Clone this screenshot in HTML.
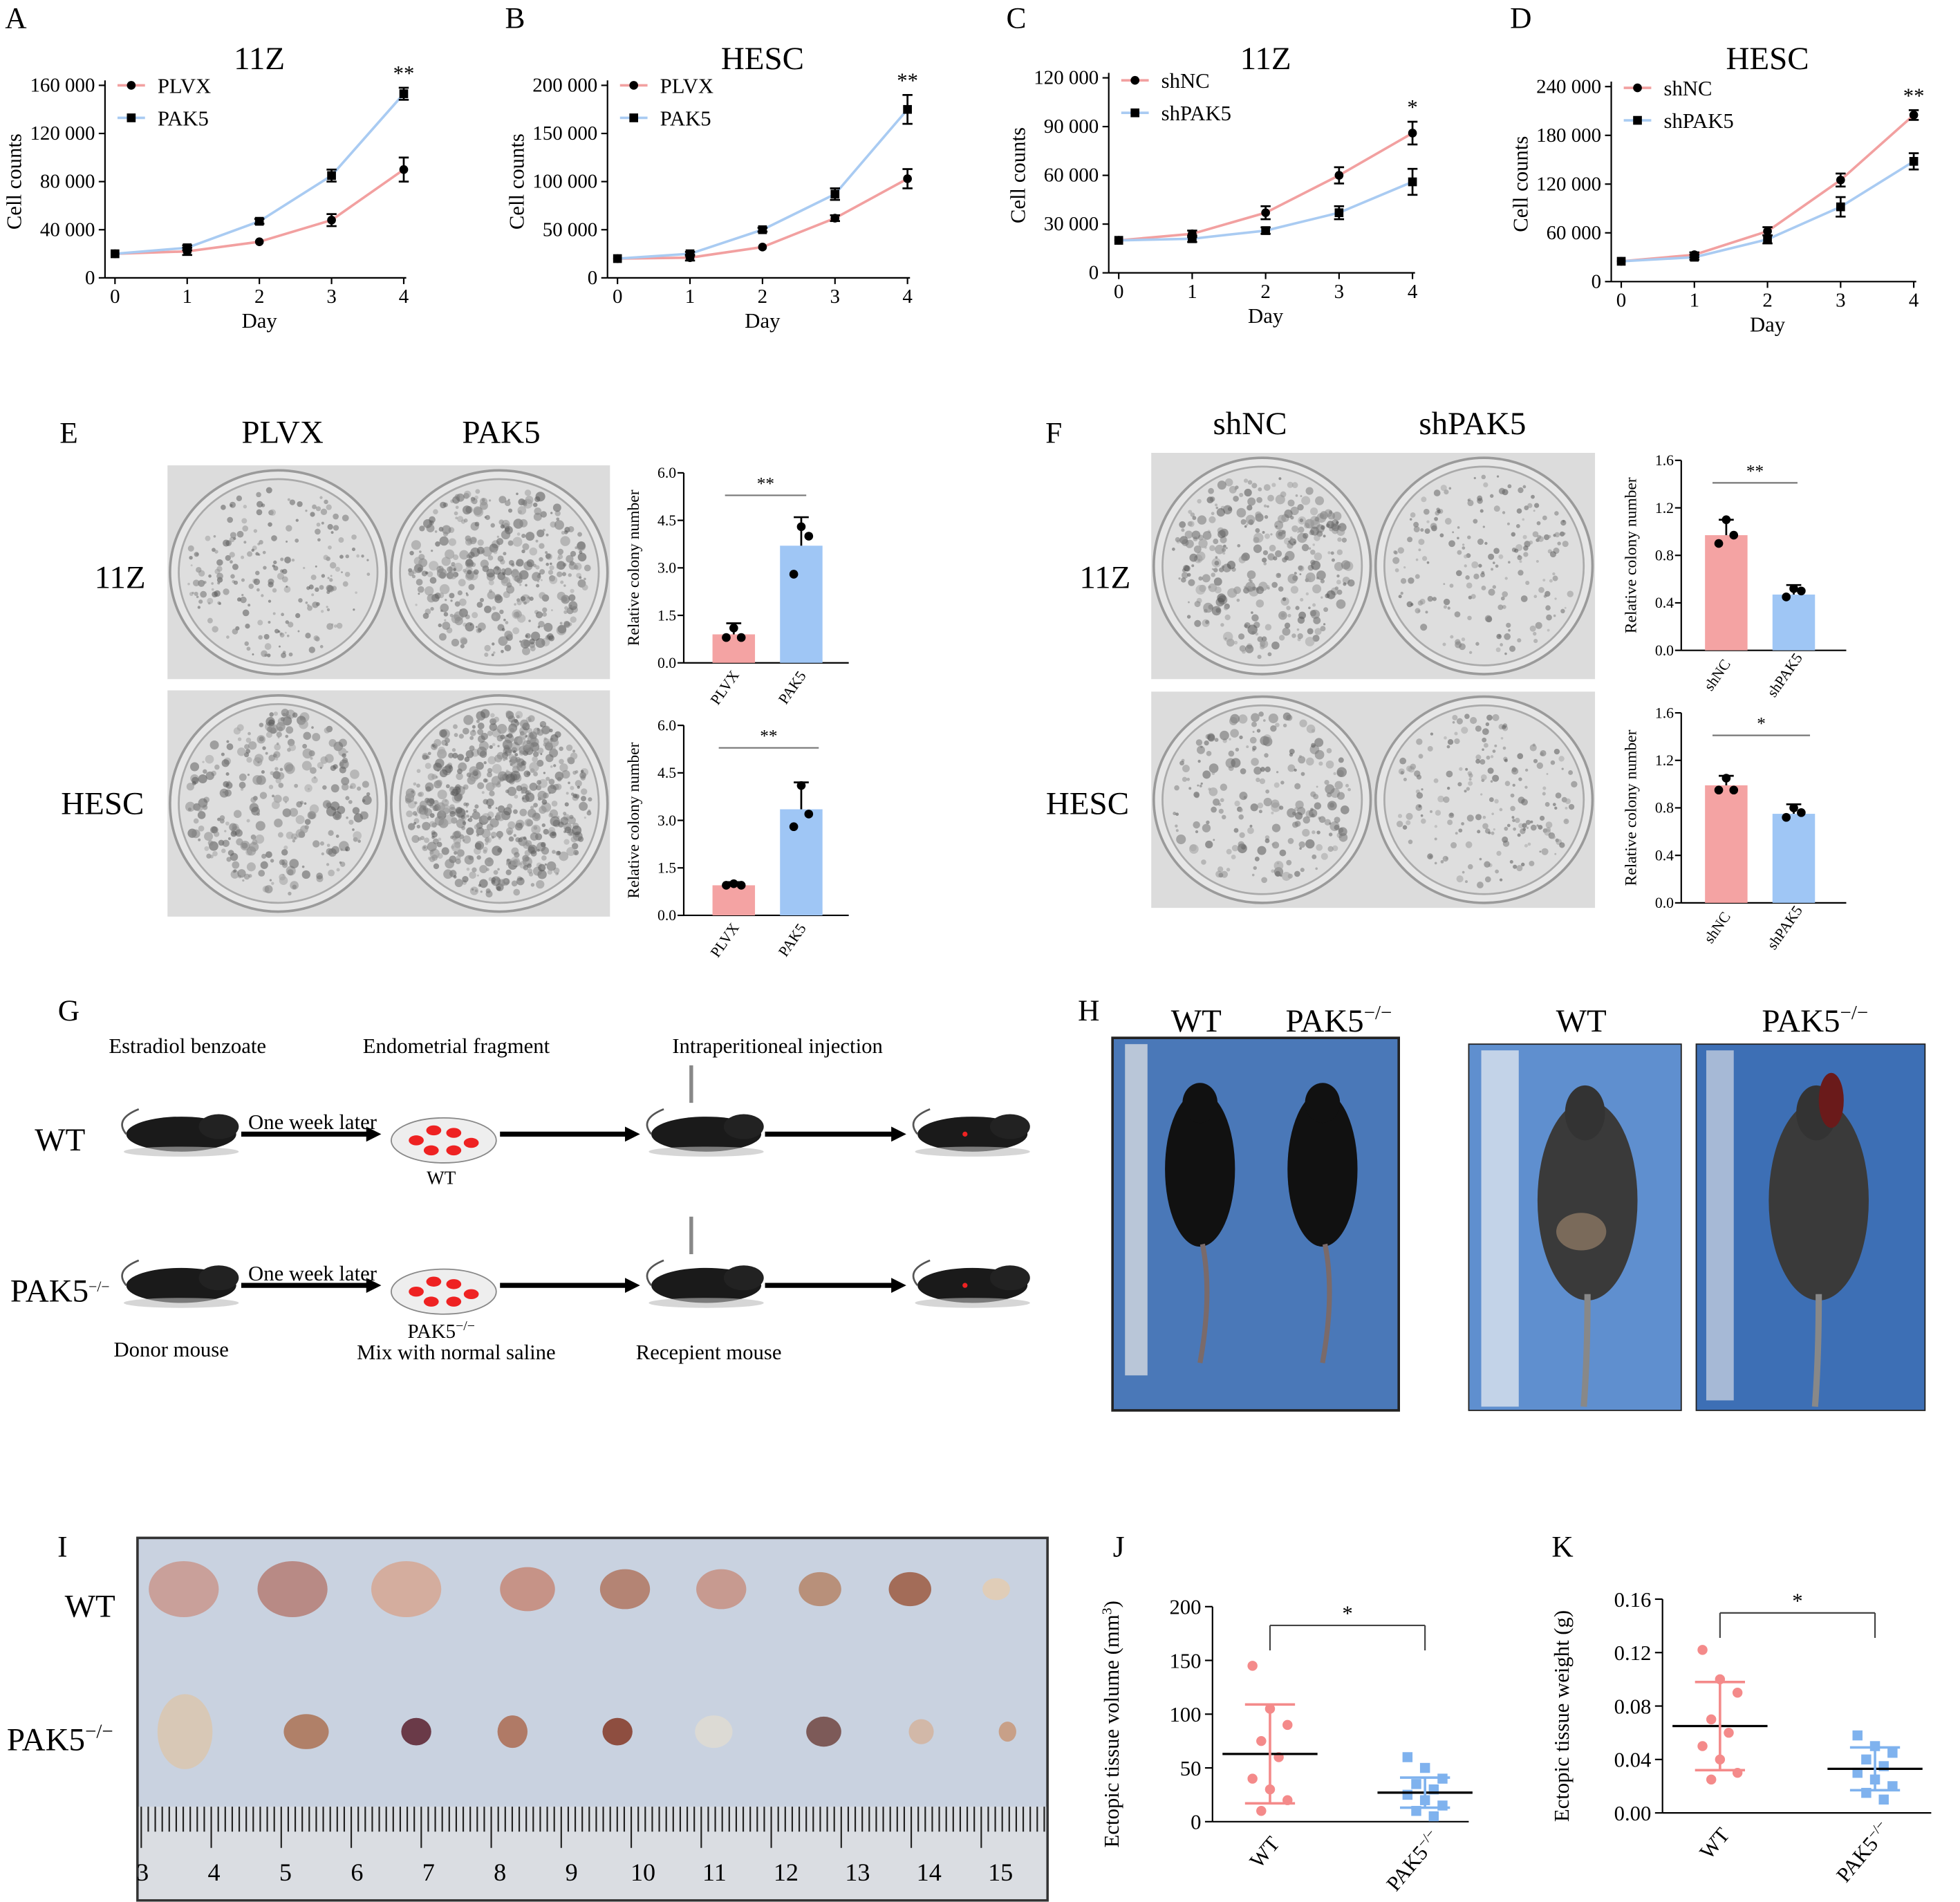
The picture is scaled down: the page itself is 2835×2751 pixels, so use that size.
<!DOCTYPE html>
<html><head><meta charset="utf-8"><style>
html,body{margin:0;padding:0;background:#fff}
svg{display:block}
text{font-family:"Liberation Serif",serif}
</style></head><body>
<svg id="s" xmlns="http://www.w3.org/2000/svg" width="2835" height="2751" viewBox="0 0 1568 1521"></svg>
<script>
const S=document.getElementById('s');let h='';
const P='#f4a3a3',B='#9fc6f5',PL='#f2a0a0',BL='#a9cbf2';
function t(x,y,s,fs,a,extra){h+=`<text x="${x}" y="${y}" font-size="${fs}" text-anchor="${a||'start'}" ${extra||''}>${s}</text>`;}
function l(x1,y1,x2,y2,c,w){h+=`<line x1="${x1}" y1="${y1}" x2="${x2}" y2="${y2}" stroke="${c||'#000'}" stroke-width="${w||1.2}"/>`;}
function lc(L,x0,x1,y0,y1,ymax,step,labs,title,s1,s2,d1,d2,err1,err2,star,leg,ly){
 t(L[1],L[2],L[0],24);
 t((x0+x1)/2,55,title,26,'middle');
 l(x0-8,y0,x1+2,y0);l(x0-8,y0,x0-8,y1-4);
 for(let i=0;i<labs.length;i++){let y=y0-(y0-y1)*i/(labs.length-1);l(x0-13,y,x0-8,y);t(x0-16,y+5,labs[i],16,'end');}
 for(let i=0;i<5;i++){let x=x0+(x1-x0)*i/4;l(x,y0,x,y0+5);t(x,y0+20,i,16,'middle');}
 t((x0+x1)/2,y0+40,'Day',17,'middle');
 t(0,0,'Cell counts',17,'middle',`transform="translate(${x0-75},${(y0+y1)/2}) rotate(-90)"`);
 const Y=v=>y0-(y0-y1)*v/ymax,X=i=>x0+(x1-x0)*i/4;
 [[d1,PL],[d2,BL]].forEach(([d,c])=>{
  h+=`<polyline fill="none" stroke="${c}" stroke-width="2" points="${d.map((v,i)=>X(i)+','+Y(v)).join(' ')}"/>`;
 });
 [[d1,err1,'c'],[d2,err2,'s']].forEach(([d,e,m])=>{d.forEach((v,i)=>{let x=X(i),y=Y(v),ee=e[i]*(y0-y1)/ymax;
  if(ee>0){l(x,y-ee,x,y+ee,'#000',1.5);l(x-4,y-ee,x+4,y-ee,'#000',1.5);l(x-4,y+ee,x+4,y+ee,'#000',1.5);}
  if(m=='c')h+=`<circle cx="${x}" cy="${y}" r="3.5"/>`;else h+=`<rect x="${x-3.5}" y="${y-3.5}" width="7" height="7"/>`;});});
 t(X(4),Y(d1[4]>d2[4]?d1[4]:d2[4])-((d1[4]>d2[4]?err1[4]:err2[4])*(y0-y1)/ymax)-6,star,17,'middle');
 let lx=x0+2;
 l(lx,ly,lx+22,ly,PL,2);h+=`<circle cx="${lx+11}" cy="${ly}" r="3.5"/>`;t(lx+32,ly+6,s1,17);
 l(lx,ly+26,lx+22,ly+26,BL,2);h+=`<rect x="${lx+7.5}" y="${ly+22.5}" width="7" height="7"/>`;t(lx+32,ly+32,s2,17);
}
lc(['A',4,22],92,323,222,68,160000,0,['0','40 000','80 000','120 000','160 000'],'11Z','PLVX','PAK5',[20000,22000,30000,48000,90000],[20000,25000,47000,85000,153000],[0,3000,0,5000,10000],[0,2000,2000,5000,5000],'**',0,68);
lc(['B',404,22],494,726,222,68,200000,0,['0','50 000','100 000','150 000','200 000'],'HESC','PLVX','PAK5',[20000,21000,32000,62000,103000],[20000,25000,50000,87000,175000],[0,3000,0,3000,10000],[0,2000,2000,6000,15000],'**',0,68);
lc(['C',805,22],895,1130,218,62,120000,0,['0','30 000','60 000','90 000','120 000'],'11Z','shNC','shPAK5',[20000,24000,37000,60000,86000],[20000,21000,26000,37000,56000],[0,2000,4000,5000,7000],[0,2000,2000,4000,8000],'*',0,64);
lc(['D',1208,22],1297,1531,225,69,240000,0,['0','60 000','120 000','180 000','240 000'],'HESC','shNC','shPAK5',[25000,33000,62000,125000,205000],[25000,30000,52000,92000,148000],[0,3000,5000,8000,6000],[0,3000,5000,12000,10000],'**',0,70);
function plate(x,y,w,hh,dens,seed,dark){
 h+=`<rect x="${x}" y="${y}" width="${w}" height="${hh}" fill="#dcdcdc"/>`;
 let r=w/4-4;let cx1=x+w/4,cx2=x+3*w/4,cy=y+hh/2,ry=hh/2-6;
 let rnd=seed;const R=()=>{rnd=(rnd*9301+49297)%233280;return rnd/233280;};
 [cx1,cx2].forEach((cx,k)=>{h+=`<ellipse cx="${cx}" cy="${cy}" rx="${r+2}" ry="${ry+2}" fill="#e6e6e6" stroke="#9a9a9a" stroke-width="2"/>`;
  h+=`<ellipse cx="${cx}" cy="${cy}" rx="${r-5}" ry="${ry-5}" fill="#dedede" stroke="#aaa" stroke-width="1.5"/>`;
  let n=dens[k];for(let i=0;i<n;i++){let a=R()*6.283,d=Math.sqrt(R())*0.93;let g=Math.floor(80+R()*90);
   h+=`<circle cx="${(cx+Math.cos(a)*d*(r-6)).toFixed(1)}" cy="${(cy+Math.sin(a)*d*(ry-6)).toFixed(1)}" r="${(0.8+R()*(dark[k]?3.2:2)).toFixed(1)}" fill="rgb(${g},${g},${g})" opacity="0.55"/>`;}
 });
}
t(55,354,'E',24,'middle');t(226,354,'PLVX',26,'middle');t(401,354,'PAK5',26,'middle');
plate(134,372,354,171,[220,380],7,[0,1]);plate(134,552,354,181,[300,600],13,[1,1]);
t(96,470,'11Z',26,'middle');t(82,651,'HESC',26,'middle');
t(843,354,'F',24,'middle');t(1000,347,'shNC',26,'middle');t(1178,347,'shPAK5',26,'middle');
plate(921,362,355,181,[340,200],21,[1,0]);plate(921,553,355,173,[220,200],33,[1,0]);
t(884,470,'11Z',26,'middle');t(870,651,'HESC',26,'middle');
function bc(x0,off,y0,y1,labs,max,v1,v2,dots1,dots2,e1,e2,n1,n2,star,sx1,sx2){
 l(x0,y0,x0+132,y0);l(x0,y0,x0,y1);
 labs.forEach((s,i)=>{let y=y0-(y0-y1)*i/(labs.length-1);l(x0-5,y,x0,y);t(x0-6,y+4,s,12,'end');});
 t(0,0,'Relative colony number',13,'middle',`transform="translate(${x0-36},${(y0+y1)/2}) rotate(-90)"`);
 const Y=v=>y0-(y0-y1)*v/max;
 [[x0+off,v1,P,dots1,e1,n1],[x0+off+54,v2,B,dots2,e2,n2]].forEach(([cx,v,c,ds,e,n])=>{
  h+=`<rect x="${cx-17}" y="${Y(v)}" width="34" height="${y0-Y(v)}" fill="${c}"/>`;
  l(cx,Y(v),cx,Y(v+e),'#000',1.5);l(cx-6,Y(v+e),cx+6,Y(v+e),'#000',1.5);
  ds.forEach((d,i)=>h+=`<circle cx="${cx-6+i*6}" cy="${Y(d)}" r="3.5"/>`);
  t(0,0,n,12,'middle',`transform="translate(${cx-4},${y0+22}) rotate(-55)"`);
 });
 l(sx1,y1+18,sx2,y1+18,'#777',1.2);t((sx1+sx2)/2,y1+13,star,14,'middle');
}
bc(547,40,530,378,['0.0','1.5','3.0','4.5','6.0'],6,0.9,3.7,[0.8,1.1,0.8],[2.8,4.3,4.0],0.35,0.9,'PLVX','PAK5','**',580,645);
bc(547,40,732,580,['0.0','1.5','3.0','4.5','6.0'],6,0.95,3.35,[0.95,1.0,0.95],[2.8,4.1,3.2],0.1,0.85,'PLVX','PAK5','**',575,655);
bc(1345,36,520,368,['0.0','0.4','0.8','1.2','1.6'],1.6,0.97,0.47,[0.9,1.1,0.97],[0.45,0.52,0.5],0.13,0.08,'shNC','shPAK5','**',1370,1438);
bc(1345,36,722,570,['0.0','0.4','0.8','1.2','1.6'],1.6,0.99,0.75,[0.95,1.05,0.95],[0.72,0.8,0.76],0.08,0.08,'shNC','shPAK5','*',1370,1448);
function mouse(x,y){h+=`<ellipse cx="${x}" cy="${y}" rx="44" ry="14" fill="#1a1a1a"/><ellipse cx="${x+30}" cy="${y-6}" rx="16" ry="10" fill="#222"/><path d="M${x-44} ${y} q-10 -12 10 -20" stroke="#555" fill="none" stroke-width="1.5"/><ellipse cx="${x}" cy="${y+14}" rx="46" ry="4" fill="#bbb" opacity=".6"/>`;}
function dish(x,y){h+=`<ellipse cx="${x}" cy="${y}" rx="42" ry="18" fill="#eee" stroke="#888"/>`;[[-22,0],[-8,-8],[8,-6],[22,2],[-10,8],[8,8]].forEach(([a,b])=>h+=`<ellipse cx="${x+a}" cy="${y+b}" rx="6" ry="4" fill="#e22"/>`);}
function arrow(x1,x2,y){l(x1,y,x2-10,y,'#000',4);h+=`<polygon points="${x2},${y} ${x2-12},${y-6} ${x2-12},${y+6}"/>`;}
t(55,816,'G',24,'middle');
t(150,842,'Estradiol benzoate',17,'middle');t(365,842,'Endometrial fragment',17,'middle');t(622,842,'Intraperitioneal injection',17,'middle');
[[907,'WT'],[1028,'PAK5<tspan font-size="12" dy="-8">−/−</tspan>']].forEach(([y,lab])=>{
 t(48,y+13,lab,26,'middle');mouse(145,y);arrow(193,305,y);t(250,y-4,'One week later',17,'middle');dish(355,y+5);
 arrow(400,512,y);mouse(565,y);l(553,y-55,553,y-25,'#888',3);arrow(612,725,y);mouse(778,y);h+=`<circle cx="772" cy="${y}" r="2" fill="#e22"/>`;
});
t(353,947,'WT',15,'middle');t(353,1070,'PAK5<tspan font-size="11" dy="-6">−/−</tspan>',16,'middle');
t(137,1085,'Donor mouse',17,'middle');t(365,1087,'Mix with normal saline',17,'middle');t(567,1087,'Recepient mouse',17,'middle');
t(871,816,'H',24,'middle');t(957,825,'WT',26,'middle');t(1071,825,'PAK5<tspan font-size="16" dy="-10">−/−</tspan>',26,'middle');
t(1265,825,'WT',26,'middle');t(1452,825,'PAK5<tspan font-size="16" dy="-10">−/−</tspan>',26,'middle');
h+=`<rect x="890" y="830" width="229" height="298" fill="#4a78b8" stroke="#222" stroke-width="2"/><rect x="900" y="835" width="18" height="265" fill="#b9c6d8"/>`;
[[960,'#111'],[1058,'#111']].forEach(([x,c])=>{h+=`<ellipse cx="${x}" cy="${935}" rx="28" ry="62" fill="${c}"/><ellipse cx="${x}" cy="882" rx="14" ry="16" fill="${c}"/><path d="M${x+2} 995 q8 40 -2 95" stroke="#7a6a6a" stroke-width="4" fill="none"/>`;});
h+=`<rect x="1175" y="835" width="170" height="293" fill="#5f8fcf" stroke="#222" stroke-width="1"/><rect x="1185" y="840" width="30" height="285" fill="#c3d3e8"/>`;
h+=`<rect x="1357" y="835" width="183" height="293" fill="#3d6fb5" stroke="#222" stroke-width="1"/><rect x="1365" y="840" width="22" height="280" fill="#a6b9d6"/>`;
[[1270],[1455]].forEach(([x])=>{h+=`<ellipse cx="${x}" cy="${960}" rx="40" ry="80" fill="#3a3a3a"/><ellipse cx="${x-2}" cy="890" rx="16" ry="22" fill="#333"/><path d="M${x} 1035 q0 50 -3 90" stroke="#888" stroke-width="5" fill="none"/>`;});
h+=`<ellipse cx="1465" cy="880" rx="10" ry="22" fill="#6a1a1a"/><ellipse cx="1265" cy="985" rx="20" ry="15" fill="#7a6a5a"/>`;
t(50,1245,'I',24,'middle');
h+=`<rect x="110" y="1230" width="728" height="290" fill="#c9d2e0" stroke="#333" stroke-width="2"/><rect x="111" y="1445" width="726" height="74" fill="#dadde2"/>`;
for(let x=113;x<836;x+=5.6){l(x,1445,x,x%56<6?1478:1465,'#222',1.2);}
[3,4,5,6,7,8,9,10,11,12,13,14,15].forEach((n,i)=>t(114+i*57.2,1504,n,20,'middle','font-family="Liberation Sans"'));
t(72,1293,'WT',26,'middle');t(48,1400,'PAK5<tspan font-size="16" dy="-10">−/−</tspan>',26,'middle');
[[147,28,'#c9a09a'],[234,28,'#b88a85'],[325,28,'#d4ad9e'],[422,22,'#c69387'],[500,20,'#b48474'],[577,20,'#c79a90'],[656,17,'#b8907a'],[728,17,'#a36c58'],[797,11,'#e0cdb8']].forEach(([x,r,c])=>h+=`<ellipse cx="${x}" cy="1271" rx="${r}" ry="${r*0.8}" fill="${c}"/>`);
[[148,22,30,'#d8c8b6'],[245,18,14,'#b08068'],[333,12,11,'#6a3a48'],[410,12,13,'#b07a66'],[494,12,11,'#8e4e40'],[571,15,13,'#dcdad4'],[659,14,12,'#7d5a58'],[737,10,10,'#d2b8a8'],[806,7,8,'#c8a088']].forEach(([x,rx,ry,c])=>h+=`<ellipse cx="${x}" cy="1385" rx="${rx}" ry="${ry}" fill="${c}"/>`);
function sc(L,lx,x0,x1,y0,y1,labs,max,ylab,p,pm,psd,bl,bm,bsd,sy){
 t(lx,1245,L,24,'middle');
 l(x0,y0,x1,y0);l(x0,y0,x0,y1);
 labs.forEach((s,i)=>{let y=y0-(y0-y1)*i/(labs.length-1);l(x0-6,y,x0,y);t(x0-9,y+6,s,17,'end');});
 t(0,0,ylab,17,'middle',`transform="translate(${x0-75},${(y0+y1)/2+8}) rotate(-90)"`);
 const Y=v=>y0-(y0-y1)*v/max;let c1=x0+46,c2=x0+170;
 [[c1,p,pm,psd,'#f48a8a','c'],[c2,bl,bm,bsd,'#7fb2ee','s']].forEach(([cx,d,m,sd,c,mk])=>{
  d.forEach((v,i)=>{let x=cx+((i*37)%5-2)*7;if(mk=='c')h+=`<circle cx="${x}" cy="${Y(v)}" r="4" fill="${c}"/>`;else h+=`<rect x="${x-4}" y="${Y(v)-4}" width="8" height="8" fill="${c}"/>`;});
  l(cx-38,Y(m),cx+38,Y(m),'#000',1.8);l(cx,Y(m-sd),cx,Y(m+sd),c,2);l(cx-20,Y(m+sd),cx+20,Y(m+sd),c,2);l(cx-20,Y(m-sd),cx+20,Y(m-sd),c,2);
 });
 l(c1,sy+20,c1,sy,'#444');l(c1,sy,c2,sy,'#444');l(c2,sy,c2,sy+20,'#444');t((c1+c2)/2,sy-4,'*',17,'middle');
 t(0,0,'WT',17,'middle',`transform="translate(${c1},${y0+28}) rotate(-50)"`);
 t(0,0,'PAK5<tspan font-size="11" dy="-6">−/−</tspan>',17,'middle',`transform="translate(${c2-5},${y0+35}) rotate(-50)"`);
}
sc('J',895,970,1175,1457,1285,['0','50','100','150','200'],200,'Ectopic tissue volume (mm<tspan font-size="11" dy="-6">3</tspan><tspan dy="6">)</tspan>',[145,105,90,75,60,40,30,20,10],63,46,[60,50,40,35,30,25,20,15,10,5],27,14,1300);
sc('K',1250,1330,1545,1450,1279,['0.00','0.04','0.08','0.12','0.16'],0.16,'Ectopic tissue weight (g)',[0.122,0.1,0.09,0.07,0.06,0.05,0.04,0.03,0.025],0.065,0.033,[0.058,0.05,0.045,0.04,0.035,0.03,0.025,0.02,0.015,0.01],0.033,0.016,1290);
S.innerHTML=h;
</script>
</body></html>
